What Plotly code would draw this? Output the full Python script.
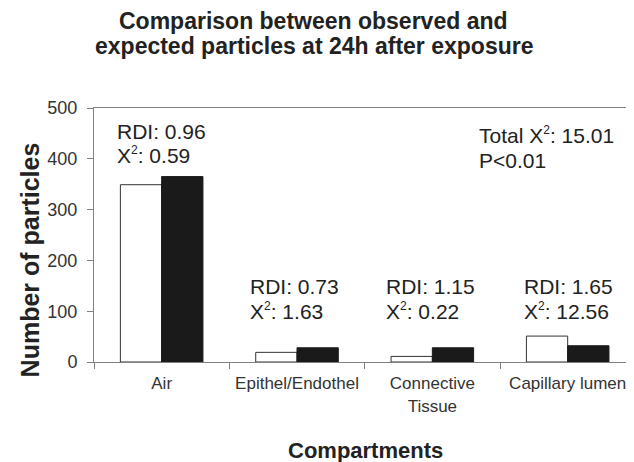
import plotly.graph_objects as go

SUP2 = "<sup><span style='font-size:12px'>2</span></sup>"

categories = ["Air", "Epithel/Endothel", "Connective<br>Tissue", "Capillary lumen"]
observed = [349, 19, 11, 51]
expected = [365, 28, 28, 32]
rdi_labels = ["RDI: 0.96", "RDI: 0.73", "RDI: 1.15", "RDI: 1.65"]
chi_labels = ["X" + SUP2 + ": 0.59", "X" + SUP2 + ": 1.63", "X" + SUP2 + ": 0.22", "X" + SUP2 + ": 12.56"]
total_labels = ["Total X" + SUP2 + ": 15.01", "P<0.01"]
y_ticks = [0, 100, 200, 300, 400, 500]

FONT = "Liberation Sans, Arial, sans-serif"
TXT = "#222222"
AX = "#808080"

fig = go.Figure()
fig.add_trace(go.Bar(x=categories, y=observed, name="Observed",
                     marker=dict(color="white", line=dict(color="#333333", width=1))))
fig.add_trace(go.Bar(x=categories, y=expected, name="Expected",
                     marker=dict(color="#1a1a1a", line=dict(color="#1a1a1a", width=1))))

# annotation positions (data coords)
ann_x = [-0.345, 0.635, 1.644, 2.661]
ann_y1 = [454, 149, 149, 149]
ann_y2 = [407, 100, 100, 100]
annotations = []
for i in range(4):
    annotations.append(dict(x=ann_x[i], y=ann_y1[i], xref="x", yref="y", text=rdi_labels[i],
                            showarrow=False, xanchor="left", yanchor="middle",
                            font=dict(family=FONT, size=21, color=TXT)))
    annotations.append(dict(x=ann_x[i], y=ann_y2[i], xref="x", yref="y", text=chi_labels[i],
                            showarrow=False, xanchor="left", yanchor="middle",
                            font=dict(family=FONT, size=21, color=TXT)))
annotations.append(dict(x=2.33, y=446, xref="x", yref="y", text=total_labels[0], showarrow=False,
                        xanchor="left", yanchor="middle", font=dict(family=FONT, size=21, color=TXT)))
annotations.append(dict(x=2.33, y=397, xref="x", yref="y", text=total_labels[1], showarrow=False,
                        xanchor="left", yanchor="middle", font=dict(family=FONT, size=21, color=TXT)))
# titles
annotations.append(dict(x=0.407, y=1.343, xref="paper", yref="paper", showarrow=False,
                        text="<b>Comparison between observed and</b>", xanchor="center", yanchor="middle",
                        font=dict(family=FONT, size=23, color=TXT)))
annotations.append(dict(x=0.407, y=1.246, xref="paper", yref="paper", showarrow=False,
                        text="<b>expected particles at 24h after exposure</b>", xanchor="center", yanchor="middle",
                        font=dict(family=FONT, size=23, color=TXT)))
annotations.append(dict(x=0.502, y=-0.348, xref="paper", yref="paper", showarrow=False,
                        text="<b>Compartments</b>", xanchor="center", yanchor="middle",
                        font=dict(family=FONT, size=22, color=TXT)))
annotations.append(dict(x=-0.1185, y=0.40, xref="paper", yref="paper", showarrow=False,
                        text="<b>Number of particles</b>", textangle=-90, xanchor="center", yanchor="middle",
                        font=dict(family=FONT, size=25, color=TXT)))

# page body has an 8px margin, so the figure is drawn 8px smaller and shifted
fig.update_layout(
    width=626, height=454,
    margin=dict(l=86, r=0, t=100, b=100, autoexpand=False),
    paper_bgcolor="white", plot_bgcolor="white",
    showlegend=False,
    barmode="group", bargap=0.39, bargroupgap=0,
    annotations=annotations,
    font=dict(family=FONT, color=TXT),
)
fig.update_xaxes(range=[-0.5, 3.49], showline=True, linecolor=AX, linewidth=1, mirror=True,
                 ticks="outside", tickson="boundaries", ticklen=6, tickcolor=AX, tickangle=0,
                 tickfont=dict(family=FONT, size=17, color="#333333"), showgrid=False,
                 ticklabelstandoff=6, automargin=False)
fig.update_yaxes(range=[0, 500], tickvals=y_ticks, showline=True, linecolor=AX, linewidth=1,
                 ticks="outside", ticklen=6, tickcolor=AX, showgrid=False, zeroline=False,
                 tickfont=dict(family=FONT, size=18, color="#333333"), ticklabelstandoff=6,
                 automargin=False)

fig.write_html("out.html")
